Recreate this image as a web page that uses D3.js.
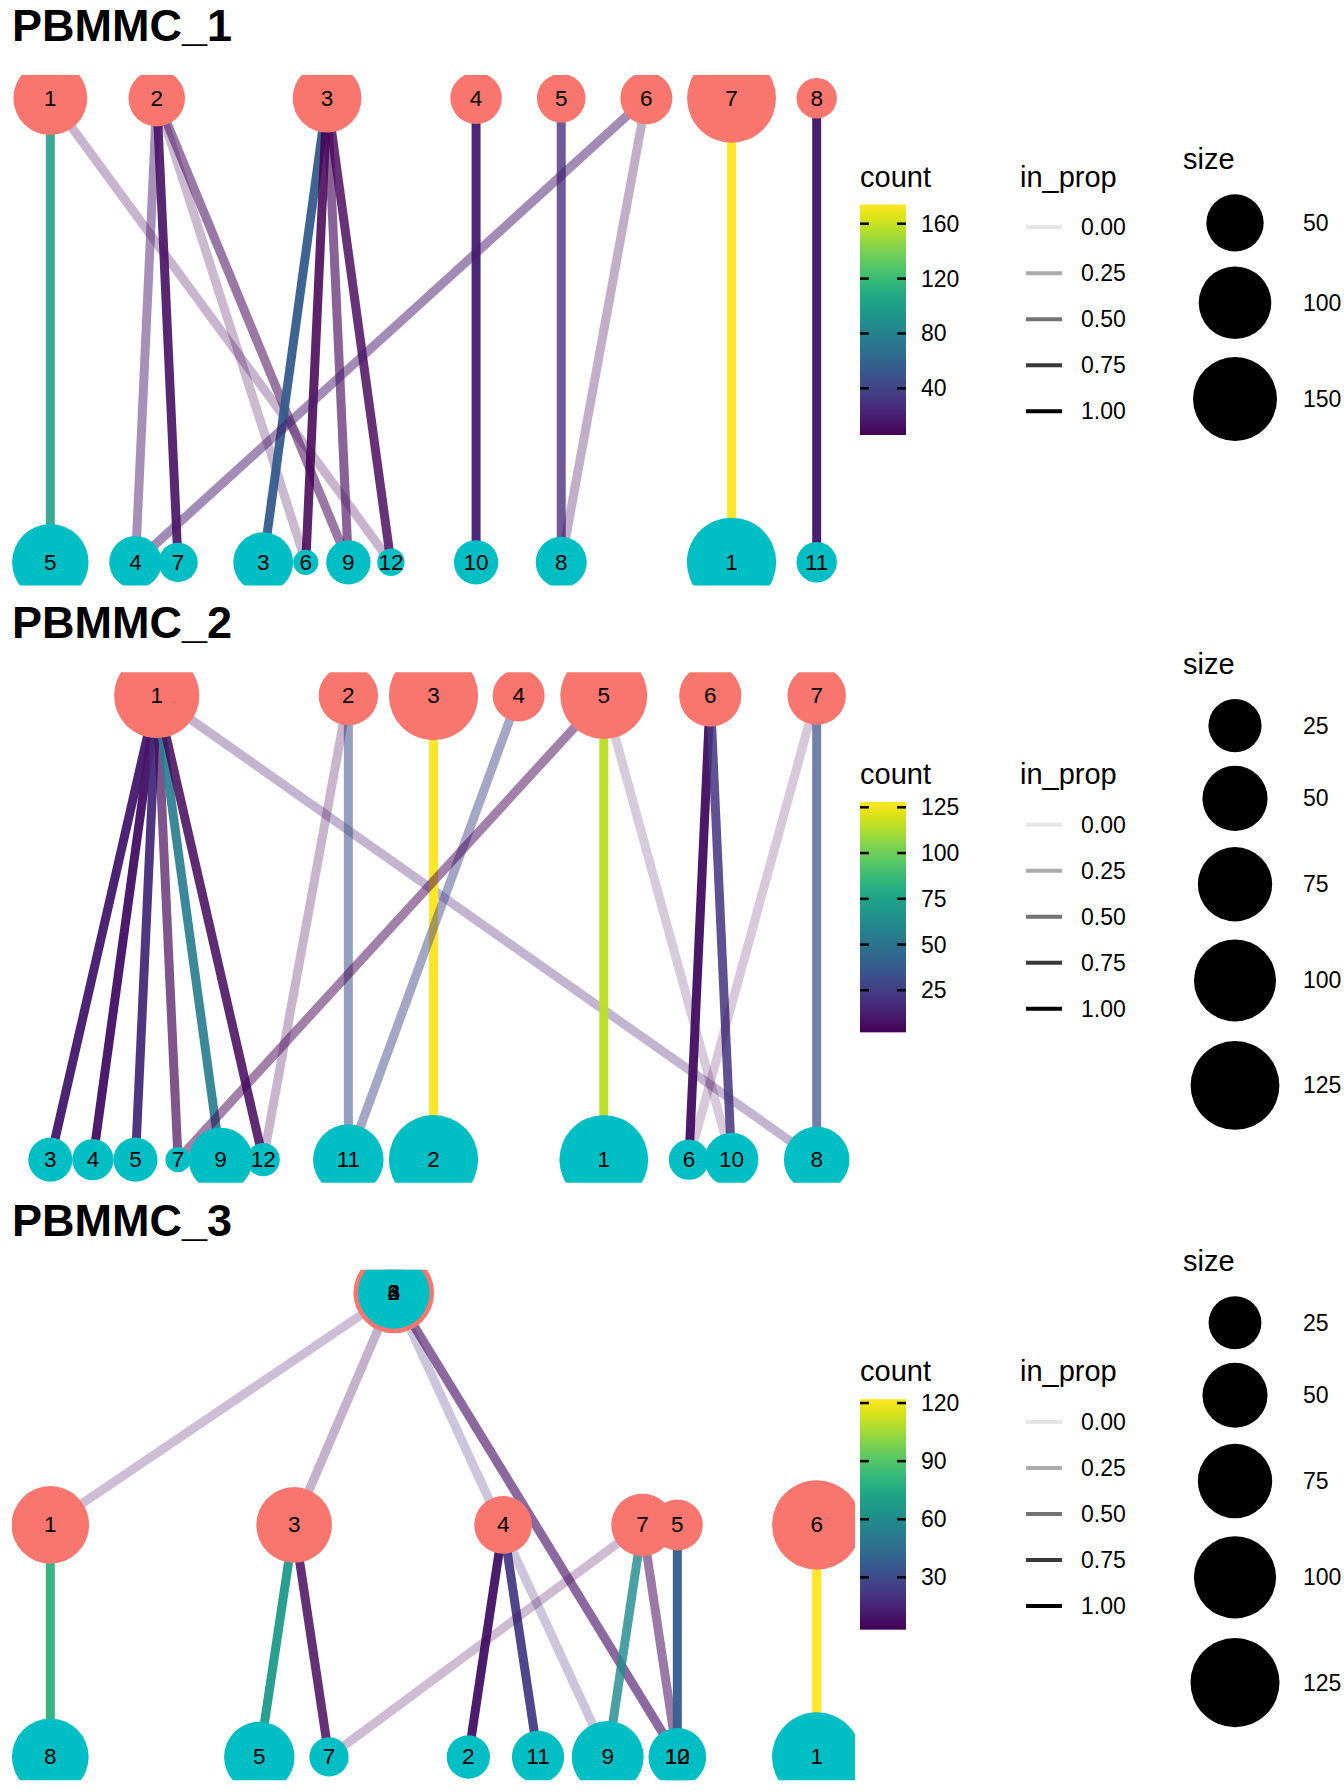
<!DOCTYPE html>
<html>
<head>
<meta charset="utf-8">
<script src="https://cdn.jsdelivr.net/npm/d3@7"></script>
<style>
body{margin:0;background:#fff;}
text{font-family:"Liberation Sans",Arial,sans-serif;}
</style>
</head>
<body>
<div id="chart"></div>
<script>
// ---- data ----
var samples=["PBMMC_1","PBMMC_2","PBMMC_3"];

// PBMMC_1 : res A (salmon) / res B (cyan), layout position, cell count
var p1AClus=["1","2","3","4","5","6","7","8"];
var p1AX=[0,2.5,6.5,10,12,14,16,18];
var p1AY=[1,1,1,1,1,1,1,1];
var p1ASize=[105,48,86,36,30,37,175,17];
var p1BClus=["1","3","4","5","6","7","8","9","10","11","12"];
var p1BX=[16,5,2,0,6,3,12,7,10,18,8];
var p1BY=[0,0,0,0,0,0,0,0,0,0,0];
var p1BSize=[177,57,38,116,7.4,15.6,35,22.5,22.5,17,7.6];
var p1From=["1","1","2","2","2","2","3","3","3","3","4","5","6","6","7","8"];
var p1To=["5","12","4","7","6","9","3","6","9","12","10","8","4","8","1","11"];
var p1Count=[100,7,16,14,7,10,55,6,11,8,22,26,18,8,174,20];
var p1Prop=[0.86,0.22,0.42,0.9,0.2,0.5,0.95,0.85,0.6,0.8,0.98,0.75,0.45,0.25,0.98,1.0];
var p1CountBreaks=[40,80,120,160];
var p1SizeBreaks=[50,100,150];

// PBMMC_2
var p2AClus=["1","2","3","4","5","6","7"];
var p2AX=[2.5,7,9,11,13,15.5,18];
var p2AY=[1,1,1,1,1,1,1];
var p2ASize=[112,37,127,23,118,43,35];
var p2BClus=["1","2","3","4","5","6","7","8","9","10","11","12"];
var p2BX=[13,9,0,1,2,15,3,18,4,16,7,5];
var p2BY=[0,0,0,0,0,0,0,0,0,0,0,0];
var p2BSize=[125,127,12,9,12,8,1,51,47,26,64,3];
var p2From=["1","1","1","1","1","1","1","2","2","3","4","5","5","5","6","6","7","7"];
var p2To=["3","4","5","7","9","12","8","11","12","2","11","1","7","10","6","10","8","6"];
var p2Count=[12,9,18,4,55,5,12,32,3,128,28,115,3,4,8,22,33,2];
var p2Prop=[0.97,0.98,0.95,0.65,0.9,0.85,0.25,0.5,0.22,0.99,0.42,0.97,0.45,0.13,0.97,0.85,0.69,0.13];
var p2CountBreaks=[25,50,75,100,125];
var p2SizeBreaks=[25,50,75,100,125];

// PBMMC_3
var p3AClus=["1","2","3","4","5","6","7"];
var p3AX=[0,4.93,3.5,6.5,9,11,8.5];
var p3AY=[1,2,1,1,1,1,1];
var p3ASize=[85,95,79,34,22,126,44];
var p3BClus=["1","2","3","4","5","6","7","8","9","10","11","12"];
var p3BX=[11,6,4.93,4.93,3,4.93,4,0,8,9,7,9];
var p3BY=[0,0,2,2,0,2,0,0,0,0,0,0];
var p3BSize=[126,12,67,20,64,2,8,82,68,34,24,22];
var p3From=["1","1","3","3","3","4","4","2","2","7","7","7","5","6"];
var p3To=["3","8","3","5","7","2","11","9","12","9","10","7","10","1"];
var p3Count=[8,80,6,68,6,10,23,20,8,60,6,3,38,122];
var p3Prop=[0.19,0.95,0.24,0.95,0.82,0.97,0.93,0.2,0.59,0.8,0.49,0.18,0.95,0.99];
var p3CountBreaks=[30,60,90,120];
var p3SizeBreaks=[25,50,75,100,125];

var propBreaks=[0,0.25,0.5,0.75,1];

// ---- layout ----
var W=1344, H=1792, panelH=H/3;
var plot={left:12,right:855,top:75,bottom:585.5};
var salmon="#F8766D", cyan="#00BFC4";
var edgeWidth=9;

var svg=d3.select("#chart").append("svg")
	.attr("width",W).attr("height",H);
var defs=svg.append("defs");

// viridis gradient for the colour bars
var grad=defs.append("linearGradient").attr("id","viridis")
	.attr("x1","0").attr("y1","1").attr("x2","0").attr("y2","0");
d3.range(0,1.0001,0.05).forEach(function(t){
	grad.append("stop").attr("offset",t).attr("stop-color",d3.interpolateViridis(t));
});

function drawPanel(k,cfg){
	var g=svg.append("g").attr("transform","translate(0,"+(k*panelH)+")");

	g.append("text").attr("x",12).attr("y",41)
		.style("font-size","45px").style("font-weight","bold")
		.text(cfg.title);

	var nodes=[];
	cfg.aClus.forEach(function(c,i){
		nodes.push({id:"A"+c,label:c,x:cfg.aX[i],y:cfg.aY[i],size:cfg.aSize[i],fill:salmon});
	});
	cfg.bClus.forEach(function(c,i){
		nodes.push({id:"B"+c,label:c,x:cfg.bX[i],y:cfg.bY[i],size:cfg.bSize[i],fill:cyan});
	});
	var byId={};
	nodes.forEach(function(n){ byId[n.id]=n; });

	var xe=d3.extent(nodes,function(d){return d.x;});
	var ye=d3.extent(nodes,function(d){return d.y;});
	var xr=xe[1]-xe[0], yr=ye[1]-ye[0];
	var x_scale=d3.scaleLinear().domain([xe[0]-0.05*xr,xe[1]+0.05*xr]).range([plot.left,plot.right]);
	var y_scale=d3.scaleLinear().domain([ye[0]-0.05*yr,ye[1]+0.05*yr]).range([plot.bottom,plot.top]);

	// area-style size scale (sqrt of rescaled value)
	var se=d3.extent(nodes,function(d){return d.size;});
	var rescale=d3.scaleLinear().domain(se).range([0,1]).clamp(true);
	var diam=function(v){ return 25.2+64.1*Math.sqrt(rescale(v)); };

	var ce=d3.extent(cfg.count);
	var colour=d3.scaleSequential(d3.interpolateViridis).domain(ce);
	var alpha=d3.scaleLinear().domain([0,1]).range([0.1,1]);

	var edges=cfg.from.map(function(f,i){
		return {s:byId["A"+f],t:byId["B"+cfg.to[i]],count:cfg.count[i],prop:cfg.prop[i]};
	});

	defs.append("clipPath").attr("id","clip"+k).append("rect")
		.attr("x",plot.left).attr("y",plot.top)
		.attr("width",plot.right-plot.left).attr("height",plot.bottom-plot.top);
	var pg=g.append("g").attr("clip-path","url(#clip"+k+")");

	pg.append("g").selectAll("line").data(edges).enter().append("line")
		.attr("x1",function(d){return x_scale(d.s.x);})
		.attr("y1",function(d){return y_scale(d.s.y);})
		.attr("x2",function(d){return x_scale(d.t.x);})
		.attr("y2",function(d){return y_scale(d.t.y);})
		.attr("stroke",function(d){return colour(d.count);})
		.attr("stroke-opacity",function(d){return alpha(d.prop);})
		.attr("stroke-width",edgeWidth);

	pg.append("g").selectAll("circle").data(nodes).enter().append("circle")
		.attr("cx",function(d){return x_scale(d.x);})
		.attr("cy",function(d){return y_scale(d.y);})
		.attr("r",function(d){return diam(d.size)/2;})
		.attr("fill",function(d){return d.fill;});

	pg.append("g").selectAll("text").data(nodes).enter().append("text")
		.attr("x",function(d){return x_scale(d.x);})
		.attr("y",function(d){return y_scale(d.y);})
		.attr("text-anchor","middle").attr("dominant-baseline","central")
		.style("font-size","22.5px")
		.text(function(d){return d.label;});

	// ---- count colour bar ----
	var bar={x:860,w:46,top:204.5,bottom:435};
	var lg=g.append("g");
	lg.append("text").attr("x",860).attr("y",186.7).style("font-size","29px").text("count");
	lg.append("rect").attr("x",bar.x).attr("y",bar.top).attr("width",bar.w)
		.attr("height",bar.bottom-bar.top).attr("fill","url(#viridis)");
	var cy=d3.scaleLinear().domain(ce).range([bar.bottom,bar.top]);
	var tk=lg.append("g").selectAll("g").data(cfg.countBreaks).enter().append("g")
		.attr("transform",function(d){return "translate(0,"+cy(d)+")";});
	tk.append("line").attr("x1",bar.x).attr("x2",bar.x+9).attr("stroke","#000").attr("stroke-width",2.5);
	tk.append("line").attr("x1",bar.x+bar.w-9).attr("x2",bar.x+bar.w).attr("stroke","#000").attr("stroke-width",2.5);
	tk.append("text").attr("x",921).attr("dominant-baseline","central")
		.style("font-size","23px").text(function(d){return d;});

	// ---- in_prop legend ----
	var ag=g.append("g");
	ag.append("text").attr("x",1020).attr("y",186.7).style("font-size","29px").text("in_prop");
	var ak=ag.append("g").selectAll("g").data(propBreaks).enter().append("g")
		.attr("transform",function(d,i){return "translate(0,"+(227.3+46*i)+")";});
	ak.append("line").attr("x1",1026).attr("x2",1062)
		.attr("stroke","#000").attr("stroke-opacity",function(d){return alpha(d);})
		.attr("stroke-width",4);
	ak.append("text").attr("x",1081).attr("dominant-baseline","central")
		.style("font-size","23px").text(function(d){return d3.format(".2f")(d);});

	// ---- size legend ----
	var keys=cfg.sizeBreaks.map(function(v){ return {v:v,d:diam(v)}; });
	var keysH=d3.sum(keys,function(d){return 1.23*d.d;});
	var top=panelH/2-(keysH+41)/2+41;
	var acc=top;
	keys.forEach(function(d){ d.cy=acc+1.23*d.d/2; acc+=1.23*d.d; });
	var sg=g.append("g");
	sg.append("text").attr("x",1183).attr("y",top-19).style("font-size","29px").text("size");
	sg.selectAll("circle").data(keys).enter().append("circle")
		.attr("cx",1235).attr("cy",function(d){return d.cy;})
		.attr("r",function(d){return d.d/2;}).attr("fill","#000");
	sg.selectAll("text.lab").data(keys).enter().append("text").attr("class","lab")
		.attr("x",1303).attr("y",function(d){return d.cy;})
		.attr("dominant-baseline","central").style("font-size","23px")
		.text(function(d){return d.v;});
}

drawPanel(0,{title:samples[0],aClus:p1AClus,aX:p1AX,aY:p1AY,aSize:p1ASize,
	bClus:p1BClus,bX:p1BX,bY:p1BY,bSize:p1BSize,
	from:p1From,to:p1To,count:p1Count,prop:p1Prop,
	countBreaks:p1CountBreaks,sizeBreaks:p1SizeBreaks});
drawPanel(1,{title:samples[1],aClus:p2AClus,aX:p2AX,aY:p2AY,aSize:p2ASize,
	bClus:p2BClus,bX:p2BX,bY:p2BY,bSize:p2BSize,
	from:p2From,to:p2To,count:p2Count,prop:p2Prop,
	countBreaks:p2CountBreaks,sizeBreaks:p2SizeBreaks});
drawPanel(2,{title:samples[2],aClus:p3AClus,aX:p3AX,aY:p3AY,aSize:p3ASize,
	bClus:p3BClus,bX:p3BX,bY:p3BY,bSize:p3BSize,
	from:p3From,to:p3To,count:p3Count,prop:p3Prop,
	countBreaks:p3CountBreaks,sizeBreaks:p3SizeBreaks});
</script>
</body>
</html>
